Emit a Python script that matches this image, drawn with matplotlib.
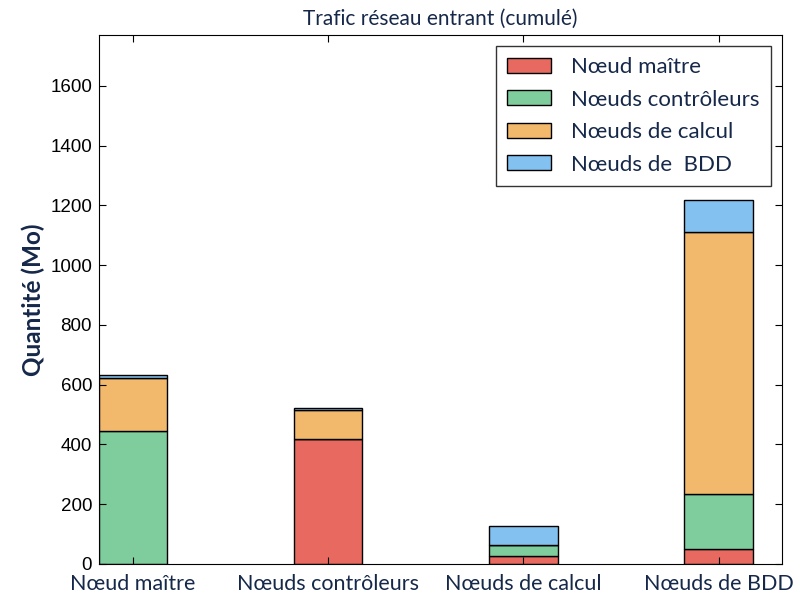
import matplotlib.pyplot as plt
import numpy as np

# Trafic entrant par type de noeud (Mo), empilé par source
categories = ['Nœud maître', 'Nœuds contrôleurs', 'Nœuds de calcul', 'Nœuds de BDD']
series_names = ['Nœud maître', 'Nœuds contrôleurs', 'Nœuds de calcul', 'Nœuds de  BDD']
maitre = [0, 418, 27, 50]
controleurs = [445, 0, 37, 184]
calcul = [177, 97, 0, 877]
bdd = [10, 7, 63, 107]

colors = ['#e8695f', '#7fcc9c', '#f2b86c', '#83c1f0']
navy = '#16284a'
geo = ['Lato', 'DejaVu Sans']

fig = plt.figure(figsize=(7.93, 5.97), dpi=100)
ax = fig.add_axes([0.1248, 0.0553, 0.8613, 0.8861])

width = 0.35
x = np.arange(len(categories))
bottom = np.zeros(len(categories))
for vals, name, c in zip([maitre, controleurs, calcul, bdd], series_names, colors):
    ax.bar(x, vals, width, bottom=bottom, align='edge', color=c,
           edgecolor='black', linewidth=1.0, label=name)
    bottom += np.array(vals)

ax.set_xlim(0, 3.5)
ax.set_ylim(0, 1770)
ax.set_xticks(x + width / 2)
ax.set_xticklabels(categories, fontsize=15.5, color=navy, family=geo)
ax.set_yticks(range(0, 1601, 200))
ax.set_yticklabels([str(v) for v in range(0, 1601, 200)],
                   family='Liberation Sans', fontsize=13.5)
ax.tick_params(direction='in', top=True, right=True, length=5)
ax.tick_params(axis='x', pad=7)
ax.tick_params(axis='y', pad=5)
ax.set_ylabel('Quantité (Mo)', fontsize=17.5, color=navy, family=geo,
              fontweight='bold', labelpad=4)
ax.set_title('Trafic réseau entrant (cumulé)', fontsize=15, color=navy,
             family=geo, pad=7)

leg = ax.legend(loc='upper right', prop={'family': geo, 'size': 16},
                fancybox=False, edgecolor='black', handlelength=2.0,
                handleheight=0.68, borderpad=0.5, labelspacing=0.56,
                handletextpad=0.9, borderaxespad=0.5)
for t in leg.get_texts():
    t.set_color(navy)
leg.get_frame().set_linewidth(1.0)

plt.savefig('out.png', dpi=100)
